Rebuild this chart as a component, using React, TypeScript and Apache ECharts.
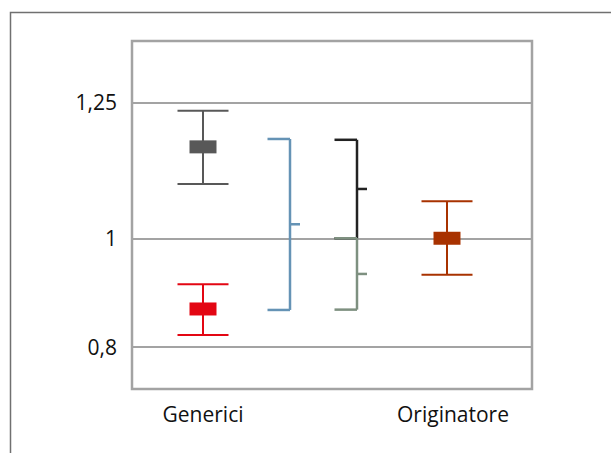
import React, { useEffect, useRef } from "react";
import * as echarts from "echarts";

// y-axis tick values
const yTicks = [0.8, 1, 1.25];
// category labels and their x positions on a 0..100 horizontal scale
const categories = ["Generici", "Originatore"];
const categoryX = [17.75, 80.25];

// error-bar markers: [x, low, high, point]
const genericiGray = [[17.75, 1.0998, 1.2346, 1.168]];
const genericiRed = [[17.75, 0.8222, 0.9154, 0.87]];
const originatore = [[78.75, 0.933, 1.068, 1.0]];

// brackets: [x, top, bottom, tick]
const bracketBlue = [[39.5, 1.1825, 0.8682, 1.0257]];
const bracketBlack = [[56.25, 1.181, 1.0, 1.0906]];
const bracketGreen = [[56.25, 1.0, 0.8688, 0.9344]];

const FONT = "'Open Sans', 'Noto Sans', sans-serif";

function errorBarRender(params: any, api: any) {
  const x = api.value(0);
  const lo = api.coord([x, api.value(1)]);
  const hi = api.coord([x, api.value(2)]);
  const mid = api.coord([x, api.value(3)]);
  const color = api.visual("color");
  const st = { stroke: color, lineWidth: 2, fill: "none" };
  return {
    type: "group",
    children: [
      { type: "line", shape: { x1: lo[0], y1: lo[1], x2: hi[0], y2: hi[1] }, style: st },
      { type: "line", shape: { x1: lo[0] - 25.5, y1: lo[1], x2: lo[0] + 25.5, y2: lo[1] }, style: st },
      { type: "line", shape: { x1: hi[0] - 25.5, y1: hi[1], x2: hi[0] + 25.5, y2: hi[1] }, style: st },
      {
        type: "rect",
        shape: { x: mid[0] - 13.5, y: mid[1] - 6.5, width: 27, height: 13 },
        style: { fill: color, stroke: "none", lineWidth: 0 },
      },
    ],
  };
}

function bracketRender(params: any, api: any) {
  const x = api.value(0);
  const top = api.coord([x, api.value(1)]);
  const bot = api.coord([x, api.value(2)]);
  const tick = api.coord([x, api.value(3)]);
  const color = api.visual("color");
  const st = { stroke: color, lineWidth: 2.5, fill: "none" };
  return {
    type: "group",
    children: [
      { type: "line", shape: { x1: top[0] - 22.5, y1: top[1], x2: top[0], y2: top[1] }, style: st },
      { type: "line", shape: { x1: top[0], y1: top[1], x2: bot[0], y2: bot[1] }, style: st },
      { type: "line", shape: { x1: bot[0] - 22.5, y1: bot[1], x2: bot[0], y2: bot[1] }, style: st },
      { type: "line", shape: { x1: tick[0], y1: tick[1], x2: tick[0] + 10, y2: tick[1] }, style: st },
    ],
  };
}

export default function App() {
  const ref = useRef<HTMLDivElement>(null);
  useEffect(() => {
    if (!ref.current) return;
    const chart = echarts.init(ref.current, null, { renderer: "svg" });
    const errSeries = (name: string, data: number[][], color: string) => ({
      name,
      type: "custom",
      z: 3,
      renderItem: errorBarRender,
      itemStyle: { color },
      data,
      encode: { x: 0, y: [1, 2, 3] },
    });
    const brSeries = (name: string, data: number[][], color: string, z: number) => ({
      name,
      type: "custom",
      z,
      renderItem: bracketRender,
      itemStyle: { color },
      data,
      encode: { x: 0, y: [1, 2, 3] },
    });
    chart.setOption({
      animation: false,
      grid: {
        left: 132,
        top: 41,
        width: 400,
        height: 348,
        show: true,
        borderColor: "#a3a3a3",
        borderWidth: 2.5,
        backgroundColor: "transparent",
      },
      xAxis: {
        type: "value",
        min: 0,
        max: 100,
        axisLine: { show: false },
        axisTick: { show: false },
        splitLine: { show: false },
        axisLabel: {
          customValues: categoryX,
          formatter: (v: number) => {
            const i = categoryX.findIndex((c) => Math.abs(c - v) < 1e-6);
            return i >= 0 ? categories[i] : "";
          },
          color: "#111",
          fontSize: 21,
          fontFamily: FONT,
          margin: 14,
        },
      },
      yAxis: {
        type: "value",
        min: 0.7229,
        max: 1.3626,
        axisLine: { show: false },
        axisTick: { show: false },
        splitLine: { show: false },
        axisLabel: {
          customValues: yTicks,
          formatter: (v: number) => String(v).replace(".", ","),
          color: "#111",
          fontSize: 21,
          fontFamily: FONT,
          margin: 15,
        },
      },
      graphic: [
        {
          type: "polyline",
          silent: true,
          shape: { points: [[10.5, 453], [10.5, 12.5], [611, 12.5]] },
          style: { stroke: "#707070", lineWidth: 1.5, fill: "none" },
        },
      ],
      series: [
        {
          type: "line",
          z: 1,
          data: [],
          markLine: {
            z: 1,
            silent: true,
            symbol: "none",
            label: { show: false },
            lineStyle: { color: "#a3a3a3", width: 2, type: "solid" },
            data: yTicks.map((v) => ({ yAxis: v })),
          },
        },
        errSeries("Generici A", genericiGray, "#585858"),
        errSeries("Generici B", genericiRed, "#e30613"),
        brSeries("Intervallo 1", bracketBlue, "#6593b5", 3),
        brSeries("Intervallo 2", bracketBlack, "#222222", 3),
        brSeries("Intervallo 3", bracketGreen, "#7e9080", 4),
        errSeries("Originatore", originatore, "#a83200"),
      ],
    });
    return () => chart.dispose();
  }, []);
  return (
    <div
      ref={ref}
      style={{ position: "fixed", left: 0, top: 0, width: 611, height: 453, background: "#fff" }}
    />
  );
}
